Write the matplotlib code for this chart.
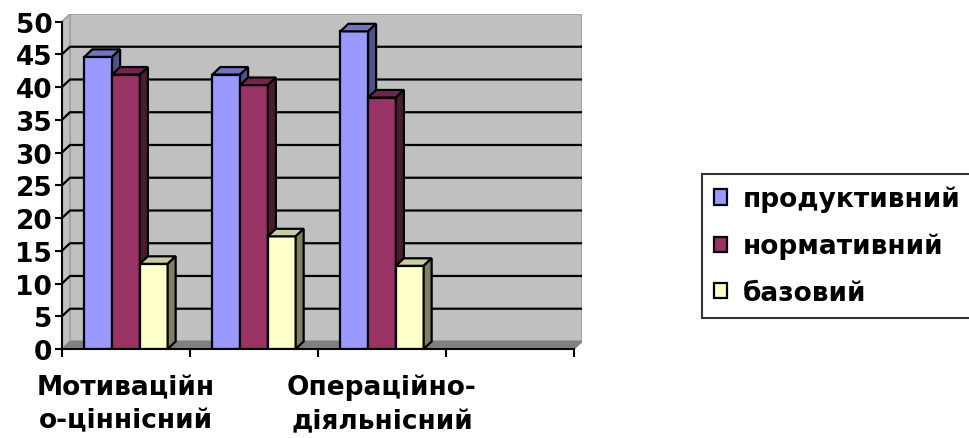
import numpy as np
import matplotlib.pyplot as plt
from matplotlib.patches import Polygon, Patch

# data
categories = ["Мотиваційн\nо-ціннісний", "", "Операційно-\nдіяльнісний", ""]
series_names = ["продуктивний", "нормативний", "базовий"]
produktyvnyi = [44.6, 41.9, 48.5]
normatyvnyi = [41.9, 40.3, 38.4]
bazovyi = [13.0, 17.2, 12.7]
y_ticks = list(range(0, 55, 5))

colors = ["#9999FF", "#993366", "#FFFFCC"]
tops = ["#7373C0", "#73264D", "#CCCCA3"]
sides = ["#50508A", "#4D1A33", "#808066"]

plt.rcParams['font.family'] = ['DejaVu Sans']
plt.rcParams['font.weight'] = 'bold'
FS = 19

fig = plt.figure(figsize=(9.7, 4.39), dpi=100)
ax = fig.add_axes([62 / 970, 89 / 439, 520 / 970, 335 / 439])

DX = 0.0625   # depth in category units
DY = 1.15     # depth in value units
n = len(categories)
ymax = 50
ax.set_xlim(0, n + DX)
ax.set_ylim(0, ymax + DY)

# walls and floor
ax.add_patch(Polygon([(DX, DY), (n + DX, DY), (n + DX, ymax + DY), (DX, ymax + DY)],
                     closed=True, facecolor="#C0C0C0", edgecolor="#A0A0A0", lw=1.2, zorder=0))
ax.add_patch(Polygon([(0, 0), (DX, DY), (DX, ymax + DY), (0, ymax)],
                     closed=True, facecolor="#C0C0C0", edgecolor="#A0A0A0", lw=1.2, zorder=0))
ax.add_patch(Polygon([(0, 0), (n, 0), (n + DX, DY), (DX, DY)],
                     closed=True, facecolor="#808080", edgecolor="#808080", lw=1, zorder=0))

# gridlines on the back wall
for v in y_ticks[1:-1]:
    ax.plot([0, DX, n + DX], [v, v + DY, v + DY], color="black", lw=1.6, zorder=1)

# 3D bars
width = 0.217
data = [produktyvnyi, normatyvnyi, bazovyi]
z = 2
for i in range(3):  # only first three categories have data
    for k in range(3):
        val = data[k][i]
        x0 = i + 0.5 + (k - 1.5) * width
        ax.bar(x0, val, width=width, align='edge', color=colors[k],
               edgecolor="black", lw=1.6, zorder=z)
        ax.add_patch(Polygon([(x0, val), (x0 + width, val), (x0 + width + DX, val + DY), (x0 + DX, val + DY)],
                             closed=True, facecolor=tops[k], edgecolor="black", lw=1.6, zorder=z))
        ax.add_patch(Polygon([(x0 + width, 0), (x0 + width + DX, DY), (x0 + width + DX, val + DY), (x0 + width, val)],
                             closed=True, facecolor=sides[k], edgecolor="black", lw=1.6, zorder=z))
        z += 1

# axes
for s in ['top', 'right']:
    ax.spines[s].set_visible(False)
ax.spines['left'].set_bounds(0, ymax)
ax.spines['bottom'].set_bounds(0, n)
ax.spines['left'].set_linewidth(1.5)
ax.spines['bottom'].set_linewidth(1.5)
ax.spines['left'].set_zorder(50)
ax.spines['bottom'].set_zorder(50)

ax.set_yticks(y_ticks)
ax.set_yticklabels([str(t) for t in y_ticks], fontsize=FS, fontweight='bold')
ax.tick_params(axis='y', direction='out', length=5, width=1.5, pad=2)

ax.set_xticks(range(n + 1))
ax.set_xticklabels([])
ax.set_xticks([i + 0.5 for i in range(n)], minor=True)
ax.set_xticklabels(categories, minor=True, fontsize=FS, fontweight='bold', linespacing=1.38)
ax.tick_params(axis='x', which='major', direction='out', length=6, width=1.5)
ax.tick_params(axis='x', which='minor', length=0, pad=18)

handles = [Patch(facecolor=c, edgecolor="black", lw=1.6) for c in colors]
leg = fig.legend(handles, series_names, loc='upper left',
                 bbox_to_anchor=(702 / 970, 1 - 175 / 439),
                 prop={'size': FS, 'weight': 'bold'}, frameon=True, fancybox=False,
                 handlelength=0.5, handleheight=0.5, handletextpad=0.6,
                 labelspacing=0.78, borderpad=0.45, borderaxespad=0)
leg.get_frame().set_edgecolor("black")
leg.get_frame().set_linewidth(1.5)

fig.savefig("out.png", dpi=100)
